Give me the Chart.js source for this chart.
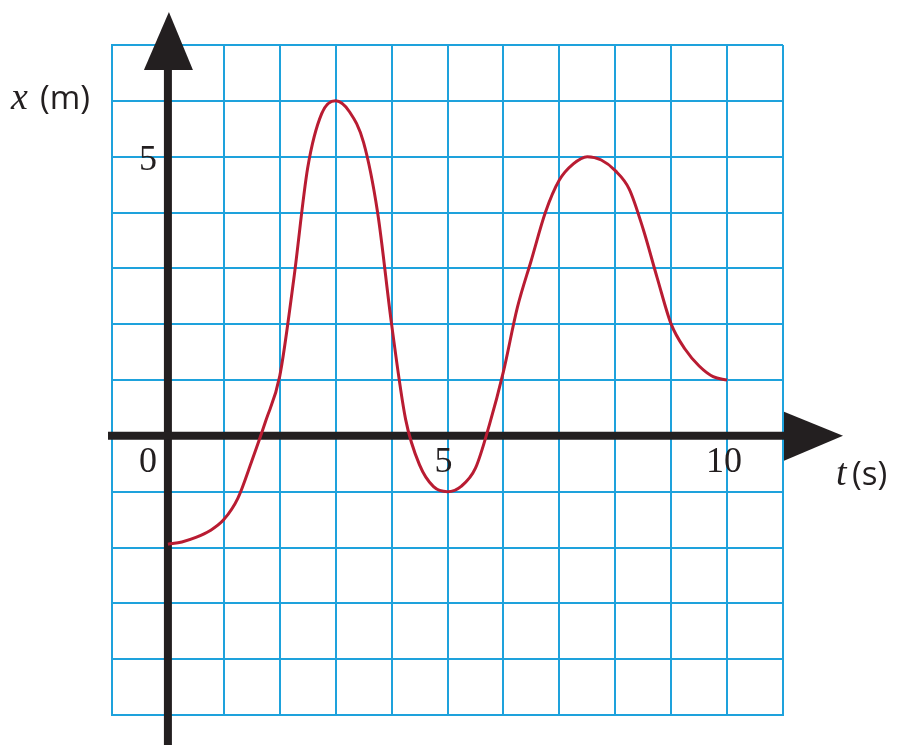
<!DOCTYPE html>
<html>
<head>
<meta charset="utf-8">
<script src="https://cdn.jsdelivr.net/npm/chart.js@4.4.0/dist/chart.umd.min.js"></script>
<style>
  html, body { margin: 0; padding: 0; background: #fff; }
  #wrap { width: 909px; height: 755px; }
</style>
</head>
<body>
<div id="wrap"><canvas id="chart" width="909" height="755"></canvas></div>
<script>
  // time (s), every quarter second
  const times = [0, 0.25, 0.5, 0.75, 1, 1.25, 1.5, 1.75, 2, 2.25, 2.5, 2.75, 3, 3.25, 3.5, 3.75, 4, 4.25, 4.5, 4.75,
    5, 5.25, 5.5, 5.75, 6, 6.25, 6.5, 6.75, 7, 7.25, 7.5, 7.75, 8, 8.25, 8.5, 8.75, 9, 9.25, 9.5, 9.75, 10];
  // position (m)
  const positions = [-1.94, -1.9, -1.82, -1.7, -1.5, -1.12, -0.45, 0.27, 1.07, 2.8, 4.8, 5.77, 6, 5.8, 5.25, 4, 2, 0.3, -0.52, -0.91,
    -1, -0.9, -0.58, 0.2, 1.15, 2.3, 3.15, 4, 4.58, 4.87, 5, 4.94, 4.75, 4.42, 3.7, 2.83, 2, 1.55, 1.25, 1.06, 1];
  const xTickLabels = [{ v: 0, text: "0" }, { v: 5, text: "5" }, { v: 10, text: "10" }];
  const yTickLabels = [{ v: 5, text: "5" }];

  const gridBlue = "#1ea2dc";
  const axisBlack = "#231f20";

  const axesPlugin = {
    id: "axesPlugin",
    beforeDatasetsDraw(chart) {
      const c = chart.ctx;
      const xs = chart.scales.x, ys = chart.scales.y;
      const x0 = xs.getPixelForValue(0), y0 = ys.getPixelForValue(0);
      c.save();
      c.strokeStyle = axisBlack;
      c.fillStyle = axisBlack;
      c.lineWidth = 8;
      // vertical axis
      c.beginPath();
      c.moveTo(x0, 745);
      c.lineTo(x0, 60);
      c.stroke();
      c.beginPath();
      c.moveTo(x0 + 1, 12);
      c.lineTo(x0 - 24, 70);
      c.lineTo(x0 + 25, 70);
      c.closePath();
      c.fill();
      // horizontal axis
      c.beginPath();
      c.moveTo(108, y0);
      c.lineTo(795, y0);
      c.stroke();
      c.beginPath();
      c.moveTo(843, y0);
      c.lineTo(784, y0 - 24);
      c.lineTo(784, y0 + 25);
      c.closePath();
      c.fill();
      c.restore();
    },
    afterDraw(chart) {
      const c = chart.ctx;
      const xs = chart.scales.x, ys = chart.scales.y;
      const x0 = xs.getPixelForValue(0), y0 = ys.getPixelForValue(0);
      c.save();
      c.fillStyle = axisBlack;
      c.textBaseline = "alphabetic";
      c.font = "36px 'Liberation Serif'";
      c.textAlign = "center";
      xTickLabels.forEach(t => {
        let px = xs.getPixelForValue(t.v);
        if (t.v === 0) px -= 20;
        else if (t.v === 10) px -= 3;
        else px -= 4;
        c.fillText(t.text, px, y0 + 36);
      });
      yTickLabels.forEach(t => {
        c.fillText(t.text, x0 - 20, ys.getPixelForValue(t.v) + 13);
      });
      // axis titles
      c.textAlign = "left";
      c.font = "italic 38px 'Liberation Serif'";
      c.fillText("x", 11, 109);
      c.font = "33px 'Open Sans'";
      c.fillText("(m)", 40, 109);
      c.font = "italic 38px 'Liberation Serif'";
      c.fillText("t", 836, 485);
      c.font = "33px 'Open Sans'";
      c.fillText("(s)", 852, 485);
      c.restore();
    }
  };

  const ctx = document.getElementById("chart").getContext("2d");
  const chart = new Chart(ctx, {
    type: "line",
    data: {
      datasets: [{
        data: times.map((t, i) => ({ x: t, y: positions[i] })),
        borderColor: "#b91c32",
        borderWidth: 3,
        pointRadius: 0,
        cubicInterpolationMode: "monotone",
        fill: false
      }]
    },
    options: {
      responsive: false,
      animation: false,
      events: [],
      layout: { padding: { left: 112, right: 126, top: 45, bottom: 40 } },
      plugins: { legend: { display: false }, tooltip: { enabled: false }, title: { display: false } },
      scales: {
        x: {
          type: "linear",
          min: -1,
          max: 11,
          ticks: { display: false, stepSize: 1 },
          grid: { color: gridBlue, lineWidth: 2, drawTicks: false },
          border: { display: true, color: gridBlue, width: 2 }
        },
        y: {
          type: "linear",
          min: -5,
          max: 7,
          ticks: { display: false, stepSize: 1 },
          grid: { color: gridBlue, lineWidth: 2, drawTicks: false },
          border: { display: true, color: gridBlue, width: 2 }
        }
      }
    },
    plugins: [axesPlugin]
  });
</script>
</body>
</html>
